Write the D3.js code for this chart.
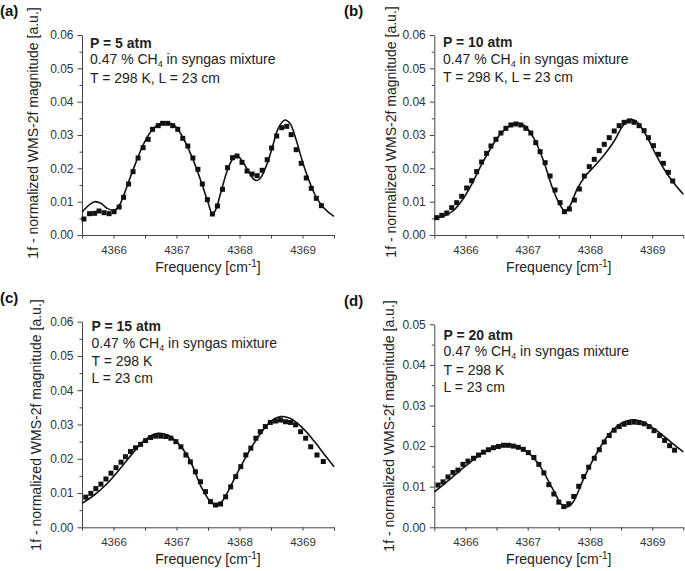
<!DOCTYPE html>
<html>
<head>
<meta charset="utf-8">
<script src="https://cdn.jsdelivr.net/npm/d3@7"></script>
<style>
  html, body { margin: 0; padding: 0; background: #fff; }
  svg { display: block; font-family: "Liberation Sans", Arial, Helvetica, sans-serif; }
</style>
</head>
<body>
<svg id="chart" width="685" height="571"></svg>
<script>
// ---------------- DATA ----------------
const panelLabels = ["(a)", "(b)", "(c)", "(d)"];
const pressureLabels = ["P = 5 atm", "P = 10 atm", "P = 15 atm", "P = 20 atm"];
const xTickValues = [4366, 4367, 4368, 4369];
const xMinorValues = [4365.5, 4366.5, 4367.5, 4368.5, 4369.5];
const yMaxValues = [0.06, 0.06, 0.06, 0.05];
const xDomain = [4365.5, 4369.5];

// (a) P = 5 atm
const measFreqA = [4365.53,4365.62,4365.70,4365.77,4365.85,4365.93,4366.01,4366.09,4366.16,4366.24,4366.31,4366.39,4366.47,4366.55,4366.62,4366.71,4366.78,4366.86,4366.94,4367.02,4367.10,4367.18,4367.26,4367.34,4367.41,4367.49,4367.57,4367.65,4367.73,4367.81,4367.89,4367.96,4368.04,4368.12,4368.20,4368.28,4368.36,4368.44,4368.51,4368.59,4368.67,4368.75,4368.82,4368.90,4368.98,4369.06,4369.14,4369.22,4369.30];
const measValA = [0.0048,0.0064,0.0065,0.0072,0.0067,0.0064,0.0070,0.0084,0.0113,0.0153,0.0190,0.0231,0.0262,0.0287,0.0317,0.0328,0.0335,0.0335,0.0328,0.0317,0.0290,0.0267,0.0231,0.0197,0.0153,0.0106,0.0063,0.0087,0.0137,0.0202,0.0232,0.0237,0.0218,0.0192,0.0183,0.0178,0.0194,0.0226,0.0261,0.0297,0.0322,0.0326,0.0301,0.0256,0.0215,0.0171,0.0140,0.0110,0.0088];
const fitFreqA = [4365.50,4365.60,4365.70,4365.80,4365.90,4366.00,4366.08,4366.16,4366.25,4366.35,4366.47,4366.60,4366.72,4366.85,4366.97,4367.10,4367.25,4367.40,4367.50,4367.57,4367.62,4367.70,4367.80,4367.90,4367.97,4368.05,4368.15,4368.25,4368.32,4368.42,4368.52,4368.62,4368.72,4368.80,4368.90,4369.00,4369.10,4369.20,4369.30,4369.40,4369.50];
const fitValA = [0.0068,0.0088,0.0100,0.0095,0.0080,0.0074,0.0085,0.0118,0.0165,0.0215,0.0270,0.0312,0.0332,0.0337,0.0328,0.0293,0.0232,0.0155,0.0098,0.0063,0.0075,0.0125,0.0190,0.0230,0.0236,0.0220,0.0188,0.0164,0.0168,0.0205,0.0262,0.0322,0.0345,0.0335,0.0285,0.0220,0.0165,0.0120,0.0090,0.0070,0.0056];

// (b) P = 10 atm
const measFreqB = [4365.54,4365.62,4365.70,4365.78,4365.86,4365.94,4366.02,4366.10,4366.18,4366.26,4366.34,4366.41,4366.49,4366.57,4366.65,4366.73,4366.81,4366.89,4366.97,4367.05,4367.13,4367.20,4367.28,4367.36,4367.44,4367.52,4367.59,4367.67,4367.75,4367.83,4367.91,4367.99,4368.07,4368.15,4368.23,4368.31,4368.39,4368.47,4368.55,4368.63,4368.71,4368.79,4368.87,4368.94,4369.02,4369.10,4369.18,4369.26,4369.33];
const measValB = [0.0052,0.0059,0.0066,0.0082,0.0097,0.0116,0.0141,0.0163,0.0190,0.0219,0.0245,0.0267,0.0287,0.0306,0.0320,0.0330,0.0333,0.0330,0.0320,0.0306,0.0277,0.0250,0.0217,0.0177,0.0135,0.0097,0.0070,0.0078,0.0105,0.0138,0.0177,0.0205,0.0227,0.0253,0.0272,0.0292,0.0312,0.0328,0.0338,0.0342,0.0338,0.0328,0.0313,0.0292,0.0268,0.0242,0.0215,0.0188,0.0162];
const fitFreqB = [4365.50,4365.65,4365.80,4365.95,4366.10,4366.25,4366.40,4366.55,4366.70,4366.82,4366.95,4367.10,4367.25,4367.40,4367.52,4367.60,4367.68,4367.80,4367.95,4368.10,4368.25,4368.40,4368.52,4368.65,4368.75,4368.90,4369.05,4369.20,4369.35,4369.50];
const fitValB = [0.0050,0.0056,0.0072,0.0105,0.0152,0.0208,0.0258,0.0300,0.0326,0.0335,0.0328,0.0290,0.0225,0.0140,0.0090,0.0072,0.0088,0.0140,0.0182,0.0212,0.0245,0.0285,0.0325,0.0347,0.0340,0.0300,0.0245,0.0195,0.0155,0.0122];

// (c) P = 15 atm
const measFreqC = [4365.56,4365.64,4365.72,4365.80,4365.88,4365.96,4366.04,4366.12,4366.19,4366.27,4366.35,4366.43,4366.51,4366.59,4366.67,4366.75,4366.83,4366.91,4366.99,4367.07,4367.15,4367.22,4367.30,4367.38,4367.46,4367.54,4367.62,4367.70,4367.78,4367.86,4367.94,4368.02,4368.10,4368.18,4368.26,4368.33,4368.41,4368.49,4368.57,4368.65,4368.73,4368.81,4368.89,4368.97,4369.05,4369.13,4369.23,4369.33];
const measValC = [0.0088,0.0099,0.0113,0.0126,0.0141,0.0158,0.0174,0.0190,0.0206,0.0221,0.0232,0.0242,0.0253,0.0262,0.0266,0.0266,0.0265,0.0260,0.0250,0.0235,0.0211,0.0191,0.0162,0.0133,0.0104,0.0075,0.0065,0.0068,0.0089,0.0118,0.0148,0.0177,0.0211,0.0231,0.0260,0.0279,0.0294,0.0306,0.0310,0.0313,0.0308,0.0306,0.0299,0.0279,0.0260,0.0235,0.0211,0.0192];
const fitFreqC = [4365.50,4365.70,4365.90,4366.10,4366.30,4366.50,4366.70,4366.85,4367.00,4367.20,4367.40,4367.55,4367.63,4367.72,4367.90,4368.10,4368.30,4368.50,4368.65,4368.80,4369.00,4369.20,4369.35,4369.50];
const fitValC = [0.0070,0.0095,0.0128,0.0170,0.0215,0.0255,0.0274,0.0270,0.0250,0.0200,0.0115,0.0072,0.0065,0.0075,0.0135,0.0205,0.0265,0.0310,0.0323,0.0318,0.0290,0.0248,0.0212,0.0177];

// (d) P = 20 atm
const measFreqD = [4365.56,4365.64,4365.72,4365.80,4365.88,4365.96,4366.04,4366.13,4366.21,4366.29,4366.37,4366.45,4366.53,4366.61,4366.69,4366.77,4366.85,4366.93,4367.01,4367.10,4367.18,4367.26,4367.34,4367.42,4367.50,4367.58,4367.66,4367.74,4367.82,4367.90,4367.98,4368.07,4368.15,4368.23,4368.31,4368.39,4368.47,4368.55,4368.63,4368.71,4368.79,4368.87,4368.95,4369.03,4369.12,4369.20,4369.28,4369.36];
const measValD = [0.0104,0.0112,0.0124,0.0135,0.0141,0.0155,0.0163,0.0170,0.0178,0.0185,0.0191,0.0196,0.0199,0.0202,0.0202,0.0200,0.0197,0.0192,0.0184,0.0172,0.0155,0.0134,0.0105,0.0082,0.0062,0.0051,0.0058,0.0076,0.0101,0.0125,0.0148,0.0170,0.0191,0.0210,0.0226,0.0239,0.0248,0.0254,0.0258,0.0259,0.0258,0.0255,0.0248,0.0238,0.0226,0.0214,0.0201,0.0190];
const fitFreqD = [4365.50,4365.70,4365.90,4366.10,4366.30,4366.50,4366.65,4366.80,4367.00,4367.20,4367.40,4367.55,4367.62,4367.72,4367.90,4368.10,4368.30,4368.50,4368.70,4368.90,4369.10,4369.30,4369.50];
const fitValD = [0.0087,0.0112,0.0138,0.0163,0.0185,0.0200,0.0205,0.0201,0.0185,0.0150,0.0095,0.0055,0.0050,0.0060,0.0120,0.0180,0.0228,0.0256,0.0265,0.0256,0.0235,0.0210,0.0186];

const measFreqs = [measFreqA, measFreqB, measFreqC, measFreqD];
const measVals = [measValA, measValB, measValC, measValD];
const fitFreqs = [fitFreqA, fitFreqB, fitFreqC, fitFreqD];
const fitVals = [fitValA, fitValB, fitValC, fitValD];
const annotationLines = [
  ["T = 298 K, L = 23 cm"],
  ["T = 298 K, L = 23 cm"],
  ["T = 298 K", "L = 23 cm"],
  ["T = 298 K", "L = 23 cm"]
];

// ---------------- LAYOUT ----------------
const layouts = [
  { x0: 82,    x1: 334,   y0: 235,   y1: 35,    lab: [0, 16],     ytitle: [38, 133],   ann: [90, [47.5, 64, 82.5]] },
  { x0: 434.3, x1: 683.3, y0: 235,   y1: 35,    lab: [344, 16],   ytitle: [396, 132],  ann: [443, [46.5, 63.5, 82]] },
  { x0: 82,    x1: 334,   y0: 527.3, y1: 321.7, lab: [0, 303],    ytitle: [41, 425],   ann: [91.5, [331, 347.5, 366, 382.5]] },
  { x0: 434.3, x1: 683.3, y0: 527.3, y1: 324.3, lab: [344, 306],  ytitle: [394, 426],  ann: [443.5, [339.5, 356, 375, 391.5]] }
];

const svg = d3.select("#chart");
const textColor = "#222";
const axisColor = "#444";

layouts.forEach((L, i) => {
  const yMax = yMaxValues[i];
  const x = d3.scaleLinear().domain(xDomain).range([L.x0, L.x1]);
  const y = d3.scaleLinear().domain([0, yMax]).range([L.y0, L.y1]);
  const g = svg.append("g");

  // minor ticks
  const yMinor = d3.range(0.005, yMax, 0.01);
  g.append("g").attr("transform", `translate(${L.x0},0)`)
    .call(d3.axisLeft(y).tickValues(yMinor).tickSize(2.5).tickSizeOuter(0).tickFormat(""))
    .call(s => s.select(".domain").remove())
    .call(s => s.selectAll("line").attr("stroke", axisColor));
  g.append("g").attr("transform", `translate(0,${L.y0})`)
    .call(d3.axisBottom(x).tickValues(xMinorValues).tickSize(3.5).tickSizeOuter(0).tickFormat(""))
    .call(s => s.select(".domain").remove())
    .call(s => s.selectAll("line").attr("stroke", axisColor));

  // major y
  const yMajor = d3.range(0, yMax + 0.0001, 0.01);
  g.append("g").attr("transform", `translate(${L.x0},0)`)
    .call(d3.axisLeft(y).tickValues(yMajor).tickSize(4.5).tickSizeOuter(0).tickPadding(4).tickFormat(d3.format(".2f")))
    .call(s => s.select(".domain").attr("stroke", axisColor))
    .call(s => s.selectAll("line").attr("stroke", axisColor))
    .call(s => s.selectAll("text").attr("fill", "#333").style("font-size", "12px").style("font-family", "'Liberation Sans', Arial, sans-serif"));

  // major x
  g.append("g").attr("transform", `translate(0,${L.y0})`)
    .call(d3.axisBottom(x).tickValues(xTickValues).tickSize(3.5).tickSizeOuter(0).tickPadding(7).tickFormat(d3.format("d")))
    .call(s => s.select(".domain").attr("stroke", axisColor))
    .call(s => s.selectAll("line").attr("stroke", axisColor))
    .call(s => s.selectAll("text").attr("fill", "#333").style("font-size", "11.5px").style("font-family", "'Liberation Sans', Arial, sans-serif"));

  // x title
  const xt = g.append("text")
    .attr("x", (L.x0 + L.x1) / 2).attr("y", L.y0 + 37)
    .attr("text-anchor", "middle").attr("fill", textColor).style("font-size", "14px");
  xt.append("tspan").text("Frequency [cm");
  xt.append("tspan").attr("dy", -5).style("font-size", "10px").text("-1");
  xt.append("tspan").attr("dy", 5).text("]");

  // y title
  g.append("text")
    .attr("transform", `translate(${L.ytitle[0]},${L.ytitle[1]}) rotate(-90)`)
    .attr("text-anchor", "middle").attr("fill", textColor).style("font-size", "14px")
    .text("1f - normalized WMS-2f magnitude [a.u.]");

  // panel label
  g.append("text").attr("x", L.lab[0]).attr("y", L.lab[1])
    .attr("fill", "#111").style("font-size", "15px").style("font-weight", "bold")
    .text(panelLabels[i]);

  // annotation
  const ax = L.ann[0], ay = L.ann[1];
  g.append("text").attr("x", ax).attr("y", ay[0]).attr("fill", textColor)
    .style("font-size", "14px").style("font-weight", "bold").text(pressureLabels[i]);
  const t2 = g.append("text").attr("x", ax).attr("y", ay[1]).attr("fill", textColor).style("font-size", "14px");
  t2.append("tspan").text("0.47 % CH");
  t2.append("tspan").attr("dy", 3).style("font-size", "9px").text("4");
  t2.append("tspan").attr("dy", -3).text(" in syngas mixture");
  annotationLines[i].forEach((line, k) => {
    g.append("text").attr("x", ax).attr("y", ay[2 + k]).attr("fill", textColor)
      .style("font-size", "14px").text(line);
  });

  // fit line
  const fitData = fitFreqs[i].map((f, k) => [f, fitVals[i][k]]);
  g.append("path").datum(fitData)
    .attr("fill", "none").attr("stroke", "#111").attr("stroke-width", 1.6)
    .attr("d", d3.line().x(d => x(d[0])).y(d => y(d[1])).curve(d3.curveCatmullRom.alpha(0.5)));

  // measured markers
  const measData = measFreqs[i].map((f, k) => [f, measVals[i][k]]);
  const s = 5;
  g.append("g").selectAll("rect").data(measData).join("rect")
    .attr("x", d => x(d[0]) - s / 2).attr("y", d => y(d[1]) - s / 2)
    .attr("width", s).attr("height", s).attr("fill", "#111");
});
</script>
</body>
</html>
